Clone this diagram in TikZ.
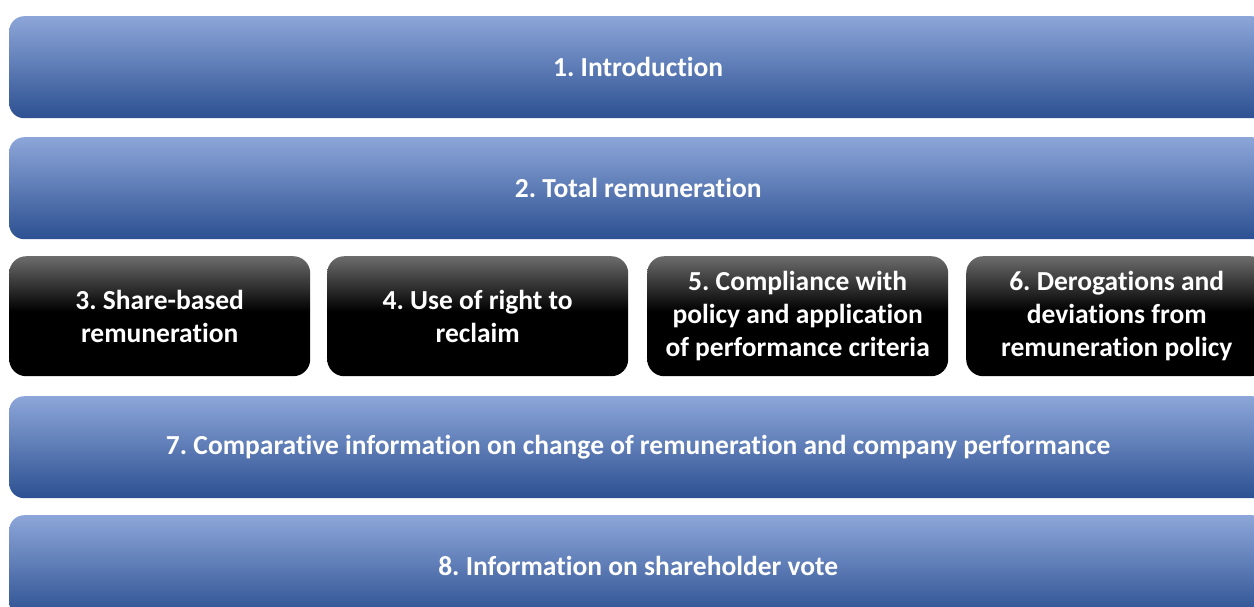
\documentclass[tikz,border=0pt]{standalone}
\usepackage{fontspec}
\setmainfont[Ligatures={NoCommon}]{Carlito}
\frenchspacing
\definecolor{barTop}{RGB}{141,166,217}
\definecolor{barMid}{RGB}{70,114,197}
\definecolor{barBot}{RGB}{44,80,145}
\definecolor{boxTop}{RGB}{108,108,108}
% dark boxes: grey at the top, fading to black a little above the middle
\pgfdeclareverticalshading{darkfade}{100bp}{%
  color(0bp)=(black); color(25bp)=(black); color(52bp)=(black);
  color(75bp)=(boxTop); color(100bp)=(boxTop)}
\begin{document}
\begin{tikzpicture}[x=1pt,y=-1pt,
  label text/.style={text=white,font=\fontsize{27.5}{33}\selectfont\bfseries,align=center,inner sep=0pt},
  bluebar/.style={label text,rounded corners=15pt,anchor=north west,
    minimum width=1258pt,minimum height=102pt,
    top color=barTop,middle color=barMid,bottom color=barBot},
  darkbox/.style={label text,rounded corners=17pt,anchor=north west,
    minimum width=301pt,minimum height=120pt,shading=darkfade}]
\useasboundingbox (0,0) rectangle (1254,606);
\fill[white] (0,0) rectangle (1254,606);
\clip (0,0) rectangle (1254,606);

% full-width section bars
\node[bluebar] (intro) at (9,16)  {1. Introduction};
\node[bluebar] (total) at (9,137) {2. Total remuneration};
\node[bluebar] (comp)  at (9,396) {7. Comparative information on change of remuneration and company performance};
\node[bluebar] (vote)  at (9,515) {8. Information on shareholder vote};

% row of four sub-sections
\node[darkbox] (share)   at (9,256)   {3. Share-based\\remuneration};
\node[darkbox] (reclaim) at (327,256) {4. Use of right to\\reclaim};
\node[darkbox] (policy)  at (647,256) {5. Compliance with\\policy and application\\of performance criteria};
\node[darkbox] (derog)   at (966,256) {6. Derogations and\\deviations from\\remuneration policy};
\end{tikzpicture}
\end{document}
